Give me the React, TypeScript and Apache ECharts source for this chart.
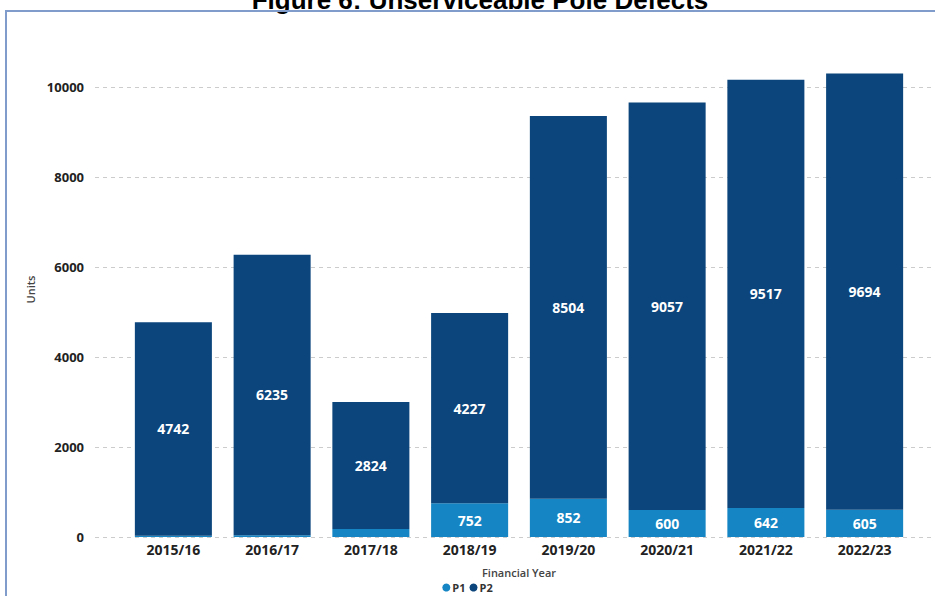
import React, { useEffect, useRef } from "react";
import * as echarts from "echarts";

const years = ["2015/16", "2016/17", "2017/18", "2018/19", "2019/20", "2020/21", "2021/22", "2022/23"];
const p1Values = [30, 40, 176, 752, 852, 600, 642, 605];
const p2Values = [4742, 6235, 2824, 4227, 8504, 9057, 9517, 9694];
const titleText = "Figure 6: Unserviceable Pole Defects";

const FONT = "'Open Sans', 'Noto Sans', sans-serif";

export default function App() {
  const ref = useRef<HTMLDivElement>(null);
  useEffect(() => {
    if (!ref.current) return;
    const chart = echarts.init(ref.current, null, { renderer: "svg" });
    const labelStyle = {
      show: true,
      position: "inside",
      color: "#ffffff",
      fontFamily: FONT,
      fontWeight: 700,
      fontSize: 14,
    };
    chart.setOption({
      animation: false,
      backgroundColor: "#ffffff",
      graphic: [
        {
          type: "text",
          x: 480,
          y: 13,
          z: 1,
          style: {
            text: titleText,
            fill: "#000",
            font: "bold 26px 'Liberation Sans', Arial, sans-serif",
            textAlign: "center",
            textVerticalAlign: "bottom",
          },
        },
        {
          type: "rect",
          z: 2,
          shape: { x: 6, y: 11, width: 960, height: 620 },
          style: { fill: "none", stroke: "#7f9ccb", lineWidth: 2 },
        },
      ],
      legend: {
        data: ["P1", "P2"],
        left: "center",
        top: 582,
        padding: 0,
        icon: "circle",
        itemWidth: 8,
        itemHeight: 8,
        itemGap: 4,
        textStyle: { fontFamily: FONT, fontWeight: 700, fontSize: 11, color: "#333", padding: [0, 0, 0, -3] },
      },
      grid: [
        { left: 95, right: 0, top: 42, bottom: 59 },
        { left: 124, right: 21, top: 42, bottom: 59 },
      ],
      xAxis: [
        { gridIndex: 0, type: "value", show: false, min: 0, max: 1 },
        {
          gridIndex: 1,
          type: "category",
          data: years,
          axisLine: { show: false },
          axisTick: { show: false },
          axisLabel: { margin: 5, fontFamily: FONT, fontWeight: 700, fontSize: 14, color: "#222" },
          name: "Financial Year",
          nameLocation: "middle",
          nameGap: 30,
          nameTextStyle: { fontFamily: FONT, fontWeight: 600, fontSize: 11, color: "#444" },
        },
      ],
      yAxis: [
        {
          gridIndex: 0,
          type: "value",
          min: 0,
          max: 11000,
          interval: 2000,
          axisLine: { show: false },
          axisTick: { show: false },
          axisLabel: {
            margin: 11,
            showMaxLabel: false,
            formatter: (v: number) => String(v),
            fontFamily: FONT,
            fontWeight: 700,
            fontSize: 13,
            color: "#222",
          },
          splitLine: { show: true, showMaxLine: false, lineStyle: { type: [4, 4], color: "#cccccc", width: 1 } },
          name: "Units",
          nameLocation: "middle",
          nameRotate: 90,
          nameGap: 56,
          nameTextStyle: { fontFamily: FONT, fontWeight: 600, fontSize: 11, color: "#444" },
        },
        { gridIndex: 1, type: "value", min: 0, max: 11000, interval: 2000, show: false, splitLine: { show: false } },
      ],
      series: [
        {
          name: "P1",
          type: "bar",
          stack: "total",
          xAxisIndex: 1,
          yAxisIndex: 1,
          barCategoryGap: "22%",
          data: p1Values,
          itemStyle: { color: "#1585c3" },
          label: { ...labelStyle, formatter: (p: any) => (p.value >= 300 ? String(p.value) : "") },
        },
        {
          name: "P2",
          type: "bar",
          stack: "total",
          xAxisIndex: 1,
          yAxisIndex: 1,
          barCategoryGap: "22%",
          data: p2Values,
          itemStyle: { color: "#0b457b" },
          label: labelStyle,
        },
      ],
    });
    return () => chart.dispose();
  }, []);
  return <div ref={ref} style={{ position: "fixed", left: 0, top: 0, width: 935, height: 596 }} />;
}
